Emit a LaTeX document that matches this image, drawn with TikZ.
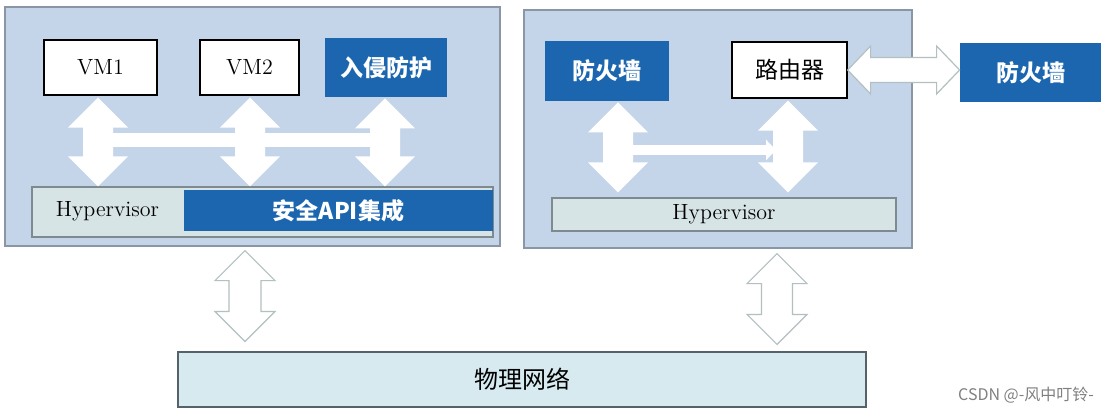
\documentclass[tikz,border=0pt]{standalone}
\usepackage{fontspec}
\newfontfamily\cjk{Noto Sans CJK SC}
\usetikzlibrary{calc,arrows.meta}
\definecolor{panel}{HTML}{C5D5E9}
\definecolor{panelline}{HTML}{8A96A3}
\definecolor{darkblue}{HTML}{1B66AE}
\definecolor{hypfill}{HTML}{D7E4E6}
\definecolor{hypline}{HTML}{7F8A90}
\definecolor{physfill}{HTML}{D6EAF0}
\definecolor{physline}{HTML}{56626B}
\definecolor{outline}{HTML}{B3C0C2}
\newcommand\vdarrow[4]{% style, top, bottom, shaft half width
  \path[#1] let \p1=(#2), \p2=(#3) in
    (\x1,\y1) -- (\x1+15pt,\y1-15pt) -- (\x1+#4,\y1-15pt) -- (\x1+#4,\y2+15pt)
    -- (\x1+15pt,\y2+15pt) -- (\x1,\y2) -- (\x1-15pt,\y2+15pt) -- (\x1-#4,\y2+15pt)
    -- (\x1-#4,\y1-15pt) -- (\x1-15pt,\y1-15pt) -- cycle;}
\newcommand\hdarrow[4]{% style, left, right, shaft half height
  \path[#1] let \p1=(#2), \p2=(#3) in
    (\x1,\y1) -- (\x1+11.5pt,\y1+12pt) -- (\x1+11.5pt,\y1+#4) -- (\x2-11.5pt,\y1+#4)
    -- (\x2-11.5pt,\y1+12pt) -- (\x2,\y1) -- (\x2-11.5pt,\y1-12pt) -- (\x2-11.5pt,\y1-#4)
    -- (\x1+11.5pt,\y1-#4) -- (\x1+11.5pt,\y1-12pt) -- cycle;}
\tikzset{
  panelbox/.style={draw=panelline, fill=panel, line width=0.6pt, inner sep=0pt},
  vmbox/.style={draw=black, fill=white, line width=0.6pt, inner sep=0pt, font=\fontsize{11}{13}\selectfont},
  darkbox/.style={fill=darkblue, draw=none, inner sep=0pt, text=white, font=\cjk\bfseries\fontsize{11.5}{14}\selectfont},
  hypbox/.style={draw=hypline, fill=hypfill, line width=0.6pt, inner sep=0pt},
  physbox/.style={draw=physline, fill=physfill, line width=0.6pt, inner sep=0pt, font=\cjk\fontsize{12}{14}\selectfont},
  whitearrow/.style={fill=white},
  outarrow/.style={fill=white, draw=outline, line width=0.6pt},
}
\begin{document}
\begin{tikzpicture}[x=0.5pt,y=-0.5pt]
\useasboundingbox[fill=white] (0,0) rectangle (1114,414);
% left host
\node[panelbox, minimum width=247.5pt, minimum height=119.5pt] (lb) at (252.5,126.5) {};
\node[vmbox, minimum width=56.5pt, minimum height=27.5pt] (vm1) at (100.5,67.5) {VM1};
\node[vmbox, minimum width=49.5pt, minimum height=27.5pt] (vm2) at (249.5,67.5) {VM2};
\node[darkbox, minimum width=61pt, minimum height=29.5pt] (ips) at (386,67.5) {入侵防护};
\node[hypbox, minimum width=230.5pt, minimum height=25pt] (hyp1) at (262.5,212) {};
\node[darkbox, minimum width=154.5pt, minimum height=20.5pt] (api) at (338.5,210.5) {安全API集成};
\node[font=\fontsize{11}{13}\selectfont] (hyp1t) at ($(hyp1.west)!0.5!(api.west)$) {Hypervisor};
% right host
\node[panelbox, minimum width=194pt, minimum height=119pt] (rb) at (718,129) {};
\node[darkbox, minimum width=62pt, minimum height=30pt] (fw1) at (607,71) {防火墙};
\node[vmbox, font=\cjk\fontsize{11.5}{14}\selectfont, minimum width=57.5pt, minimum height=28pt] (router) at (789.5,70) {路由器};
\node[darkbox, minimum width=70.5pt, minimum height=29.5pt] (fw2) at (1030.5,72.5) {防火墙};
\node[hypbox, minimum width=172pt, minimum height=16.5pt, font=\fontsize{11}{13}\selectfont] (hyp2) at (724,214.5) {Hypervisor};
% physical network
\node[physbox, minimum width=344pt, minimum height=27.5pt] (phys) at (522,379.5) {物理网络};
% arrows inside left host
\coordinate (a1t) at ($(vm1.south)+(-2.5,2)$);
\coordinate (a2t) at ($(vm2.south)+(0.5,2)$);
\coordinate (a3t) at ($(ips.south)+(-1,1)$);
\draw[white, line width=7pt] (a1t |- 0,140) -- (a3t |- 0,140);
\vdarrow{whitearrow}{a1t}{a1t |- hyp1.north}{7.5pt}
\vdarrow{whitearrow}{a2t}{a2t |- hyp1.north}{7.5pt}
\vdarrow{whitearrow}{a3t}{a3t |- hyp1.north}{7.5pt}
% arrows inside right host
\coordinate (a4t) at ($(fw1.south)+(11,1)$);
\coordinate (a5t) at ($(router.south)+(-1.5,2)$);
\coordinate (a4b) at ($(a4t |- hyp2.north)+(0,-5)$);
\coordinate (a5b) at ($(a5t |- hyp2.north)+(0,-5)$);
\draw[white, line width=5pt, -{Triangle[length=5pt,width=10pt]}] ($(a4t |- 0,150)+(15,0)$) -- ($(a5t |- 0,150)+(-12,0)$);
\vdarrow{whitearrow}{a4t}{a4b}{7.5pt}
\vdarrow{whitearrow}{a5t}{a5b}{7.5pt}
% router to outer firewall
\hdarrow{outarrow}{router.east}{fw2.west |- router.east}{6.25pt}
% hosts to physical network
\coordinate (b1) at (245,300);
\coordinate (b2) at (777,300);
\vdarrow{outarrow}{$(b1 |- lb.south)+(0,4)$}{$(b1 |- phys.north)+(0,-10)$}{8pt}
\vdarrow{outarrow}{$(b2 |- rb.south)+(0,5)$}{$(b2 |- phys.north)+(0,-7)$}{7.75pt}
% watermark
\node[font=\cjk\fontsize{8}{10}\selectfont, text=black!50, anchor=east] (wm) at (1101,395) {CSDN @-风中叮铃-};
\end{tikzpicture}
\end{document}
